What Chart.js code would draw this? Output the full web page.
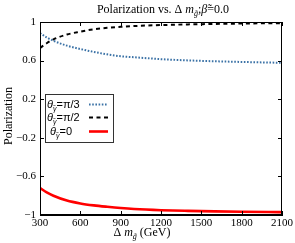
<!DOCTYPE html>
<html><head><meta charset="utf-8">
<script src="https://cdn.jsdelivr.net/npm/chart.js@4/dist/chart.umd.min.js"></script>
<style>html,body{margin:0;padding:0;background:#fff}#wrap{width:295px;height:243px;position:relative}</style>
</head><body><div id="wrap"><canvas id="c" width="295" height="243"></canvas></div>
<script>
// ---- data ----
const masses = [300, 350, 400, 500, 600, 700, 800, 900, 1000, 1200, 1400, 1600, 1800, 2000, 2100];
const polPi3 = [0.885, 0.84, 0.805, 0.755, 0.72, 0.69, 0.665, 0.645, 0.635, 0.615, 0.602, 0.593, 0.586, 0.58, 0.577];
const polPi2 = [0.73, 0.78, 0.82, 0.87, 0.90, 0.925, 0.94, 0.95, 0.958, 0.968, 0.975, 0.98, 0.984, 0.987, 0.988];
const pol0   = [-0.72, -0.765, -0.80, -0.85, -0.88, -0.90, -0.915, -0.928, -0.938, -0.95, -0.957, -0.962, -0.966, -0.969, -0.97];
const xTicks = [300, 600, 900, 1200, 1500, 1800, 2100];
const yTicks = [-1, -0.6, -0.2, 0.2, 0.6, 1];
const yTickLabels = ['\u22121', '\u22120.6', '\u22120.2', '0.2', '0.6', '1'];
const legendValues = ['\u03c0/3', '\u03c0/2', '0'];

const SERIF = '"Liberation Serif", "DejaVu Serif", serif';
const SANS = '"Liberation Sans", "DejaVu Sans", sans-serif';

function pts(ys) { return masses.map((m, i) => ({ x: m, y: ys[i] })); }

const styles = [
  { borderColor: '#3b72a6', borderWidth: 2, borderDash: [1.6, 1.6] },
  { borderColor: '#000000', borderWidth: 2, borderDash: [4, 3.5] },
  { borderColor: '#ff0000', borderWidth: 2.6, borderDash: [] }
];

// draw a sequence of text segments: {t, font, dy}
function drawSegs(ctx, segs, x, y, align) {
  let total = 0;
  segs.forEach(s => { ctx.font = s.font; s.w = ctx.measureText(s.t).width; total += s.w + (s.gap || 0); });
  let cx = align === 'center' ? x - total / 2 : x;
  ctx.textAlign = 'left';
  ctx.textBaseline = 'alphabetic';
  segs.forEach(s => { ctx.font = s.font; ctx.fillText(s.t, cx, y + (s.dy || 0)); cx += s.w + (s.gap || 0); });
}

const decor = {
  id: 'decor',
  afterDraw(chart) {
    const ctx = chart.ctx, a = chart.chartArea;
    const xs = chart.scales.x, ys = chart.scales.y;
    ctx.save();
    ctx.fillStyle = '#000';
    ctx.strokeStyle = '#000';
    // frame
    ctx.lineWidth = 1;
    ctx.strokeRect(a.left + 0.5, a.top + 0.5, a.right - a.left - 1, a.bottom - a.top - 1);
    // inward ticks on all sides
    ctx.beginPath();
    xTicks.forEach(v => {
      const px = Math.round(xs.getPixelForValue(v)) + 0.5;
      ctx.moveTo(px, a.bottom); ctx.lineTo(px, a.bottom - 4);
      ctx.moveTo(px, a.top); ctx.lineTo(px, a.top + 4);
    });
    yTicks.forEach(v => {
      const py = Math.round(ys.getPixelForValue(v)) + 0.5;
      ctx.moveTo(a.left, py); ctx.lineTo(a.left + 4, py);
      ctx.moveTo(a.right, py); ctx.lineTo(a.right - 4, py);
    });
    ctx.stroke();

    // title
    const f12 = '12px ' + SERIF, f12i = 'italic 12px ' + SERIF, f8i = 'italic 8px ' + SERIF;
    drawSegs(ctx, [
      { t: 'Polarization vs. ', font: f12 },
      { t: '\u0394 ', font: f12 },
      { t: 'm', font: f12i },
      { t: 'g\u0303', font: f8i, dy: 3 },
      { t: ';', font: f12 },
      { t: '\u03b2\u0303', font: f12i },
      { t: '=0.0', font: f12 }
    ], 163, 13, 'center');

    // x title
    drawSegs(ctx, [
      { t: '\u0394 ', font: f12 },
      { t: 'm', font: f12i },
      { t: 'g\u0303', font: f8i, dy: 3, gap: 3 },
      { t: '(GeV)', font: f12 }
    ], 142, 236, 'center');

    // y title
    ctx.save();
    ctx.translate(12, 116);
    ctx.rotate(-Math.PI / 2);
    ctx.font = '12px ' + SERIF;
    ctx.textAlign = 'center';
    ctx.textBaseline = 'alphabetic';
    ctx.fillText('Polarization', 0, 0);
    ctx.restore();

    // legend
    const L = { x: 45, y: 94, w: 68, h: 48 };
    ctx.fillStyle = '#fff';
    ctx.fillRect(L.x, L.y, L.w, L.h);
    ctx.strokeStyle = '#333';
    ctx.lineWidth = 1;
    ctx.strokeRect(L.x + 0.5, L.y + 0.5, L.w, L.h);
    const rows = [104, 117, 131];
    const fs = '11px ' + SANS, fsi = 'italic 11px ' + SANS, fsub = 'italic 7px ' + SANS;
    ctx.fillStyle = '#000';
    legendValues.forEach((v, i) => {
      const tx = i === 2 ? 50 : 47;
      drawSegs(ctx, [
        { t: '\u03b8', font: fsi },
        { t: '\u03b3\u0303', font: fsub, dy: 3 },
        { t: '=' + v, font: fs }
      ], tx, rows[i] + 4, 'left');
      const s = styles[i];
      ctx.save();
      ctx.strokeStyle = s.borderColor;
      ctx.lineWidth = s.borderWidth;
      ctx.setLineDash(s.borderDash);
      ctx.beginPath();
      ctx.moveTo(89, rows[i] + 0.5);
      ctx.lineTo(108, rows[i] + 0.5);
      ctx.stroke();
      ctx.restore();
    });
    ctx.restore();
  }
};

new Chart(document.getElementById('c'), {
  type: 'line',
  data: {
    datasets: [
      Object.assign({ label: 'pi/3', data: pts(polPi3) }, styles[0]),
      Object.assign({ label: 'pi/2', data: pts(polPi2) }, styles[1]),
      Object.assign({ label: '0', data: pts(pol0) }, styles[2])
    ].map(d => Object.assign(d, { pointRadius: 0, cubicInterpolationMode: 'monotone', fill: false }))
  },
  options: {
    responsive: false,
    devicePixelRatio: 1,
    animation: false,
    layout: { padding: { top: 22, right: 12, left: 0, bottom: 0 } },
    plugins: { legend: { display: false }, title: { display: false }, tooltip: { enabled: false } },
    scales: {
      x: {
        type: 'linear', min: 300, max: 2100,
        afterBuildTicks: s => { s.ticks = xTicks.map(v => ({ value: v })); },
        afterFit: s => { s.height = 28; },
        grid: { display: true, drawOnChartArea: false, drawTicks: false },
        border: { display: true, color: '#000', width: 1 },
        ticks: { font: { family: SERIF, size: 11 }, color: '#000', padding: 2, maxRotation: 0, autoSkip: false,
          callback: v => String(v) }
      },
      y: {
        type: 'linear', min: -1, max: 1,
        afterBuildTicks: s => { s.ticks = yTicks.map(v => ({ value: v })); },
        afterFit: s => { s.width = 40; },
        grid: { display: true, drawOnChartArea: false, drawTicks: false },
        border: { display: true, color: '#000', width: 1 },
        ticks: { font: { family: SERIF, size: 11 }, color: '#000', padding: 4, autoSkip: false,
          callback: (v) => { const i = yTicks.findIndex(t => Math.abs(t - v) < 1e-9); return i >= 0 ? yTickLabels[i] : ''; } }
      }
    }
  },
  plugins: [decor]
});
</script>
</body></html>
